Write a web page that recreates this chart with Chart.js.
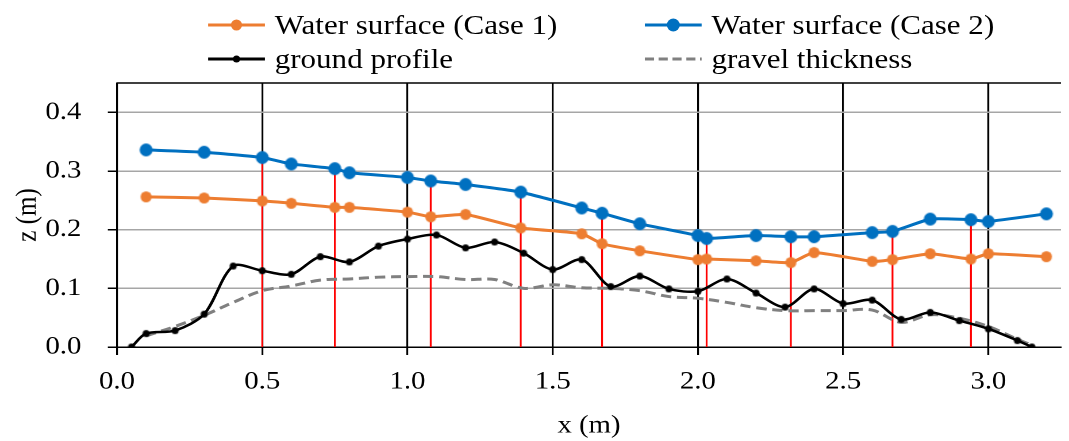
<!DOCTYPE html>
<html>
<head>
<meta charset="utf-8">
<script src="https://cdn.jsdelivr.net/npm/chart.js@4/dist/chart.umd.min.js"></script>
<style>
  html, body { margin: 0; padding: 0; background: #fff; overflow: hidden; }
  #wrap {
    position: absolute; left: 0; top: 0;
    width: 930px; height: 441px;
    transform: scaleX(1.14946); transform-origin: 0 0;
  }
  #chart { position: absolute; left: 0; top: 0; width: 930px; height: 441px; }
  .leg {
    position: absolute; height: 34px; display: flex; align-items: center;
    font-family: 'Liberation Serif', serif; font-size: 27px; color: #000; white-space: nowrap;
  }
  .leg svg { margin-right: 8.5px; }
</style>
</head>
<body>
<div id="wrap">
  <canvas id="chart"></canvas>
  <div id="legend"></div>
</div>
<script>
// horizontal stretch of the whole picture (the reference text is wider than it is tall)
const SX = 1069 / 930;

// x positions (m) of the water surface measurements
const waterX = [0.1, 0.3, 0.5, 0.6, 0.75, 0.8, 1.0, 1.08, 1.2, 1.39, 1.6, 1.67, 1.8, 2.0, 2.03, 2.2, 2.32, 2.4, 2.6, 2.67, 2.8, 2.94, 3.0, 3.2];
const case1Z = [0.256, 0.254, 0.249, 0.245, 0.238, 0.238, 0.230, 0.222, 0.226, 0.203, 0.193, 0.176, 0.164, 0.149, 0.150, 0.147, 0.144, 0.161, 0.146, 0.149, 0.159, 0.150, 0.159, 0.154];
const case2Z = [0.336, 0.332, 0.323, 0.312, 0.304, 0.297, 0.289, 0.283, 0.277, 0.264, 0.237, 0.228, 0.210, 0.190, 0.185, 0.190, 0.188, 0.188, 0.195, 0.197, 0.218, 0.217, 0.214, 0.227];

const groundX = [0.05, 0.1, 0.2, 0.3, 0.4, 0.5, 0.6, 0.7, 0.8, 0.9, 1.0, 1.1, 1.2, 1.3, 1.4, 1.5, 1.6, 1.7, 1.8, 1.9, 2.0, 2.1, 2.2, 2.3, 2.4, 2.5, 2.6, 2.7, 2.8, 2.9, 3.0, 3.1, 3.15];
const groundZ = [0.0, 0.023, 0.028, 0.056, 0.138, 0.130, 0.124, 0.154, 0.145, 0.172, 0.184, 0.191, 0.169, 0.179, 0.160, 0.132, 0.149, 0.103, 0.121, 0.099, 0.095, 0.116, 0.092, 0.068, 0.099, 0.074, 0.080, 0.047, 0.059, 0.045, 0.031, 0.011, 0.0];

const gravelX = [0.1, 0.2, 0.3, 0.4, 0.5, 0.6, 0.7, 0.8, 0.9, 1.0, 1.1, 1.2, 1.3, 1.4, 1.5, 1.6, 1.7, 1.8, 1.9, 2.0, 2.1, 2.2, 2.3, 2.4, 2.5, 2.6, 2.7, 2.8, 2.9, 3.0, 3.1, 3.15];
const gravelZ = [0.019, 0.035, 0.054, 0.076, 0.096, 0.104, 0.114, 0.116, 0.119, 0.120, 0.120, 0.115, 0.115, 0.100, 0.106, 0.101, 0.100, 0.096, 0.086, 0.083, 0.076, 0.067, 0.062, 0.062, 0.062, 0.063, 0.042, 0.055, 0.049, 0.035, 0.013, 0.003];

// red measurement sections: x and height of the vertical line
const sectionX = [0.5, 0.75, 1.08, 1.39, 1.67, 2.03, 2.32, 2.67, 2.94];
const sectionTop = [0.323, 0.304, 0.283, 0.264, 0.228, 0.185, 0.188, 0.197, 0.217];

const xTicks = [0.0, 0.5, 1.0, 1.5, 2.0, 2.5, 3.0];
const yTicks = [0.0, 0.1, 0.2, 0.3, 0.4];

const ORANGE = '#ed7d31', BLUE = '#0070c0', GREY = '#808080';
const FONT = 'Liberation Serif';

// round markers squeezed so they come out round after the stretch
function dot(color, d) {
    const c = document.createElement('canvas');
    c.width = Math.ceil(d / SX) + 2;
    c.height = d + 2;
    const g = c.getContext('2d');
    g.fillStyle = color;
    g.beginPath();
    g.ellipse(c.width / 2, c.height / 2, d / 2 / SX, d / 2, 0, 0, Math.PI * 2);
    g.fill();
    return c;
}

const pts = (xs, ys) => xs.map((x, i) => ({ x: x, y: ys[i] }));

const sections = sectionX.map((x, i) => ({
    data: [{ x: x, y: 0 }, { x: x, y: sectionTop[i] }],
    showLine: true,
    borderColor: '#ff0000',
    borderWidth: 1.6,
    pointRadius: 0,
    order: 10
}));

const frame = {
    id: 'frame',
    beforeDatasetsDraw(chart) {
        const { ctx, chartArea: a } = chart;
        ctx.save();
        ctx.strokeStyle = '#000';
        ctx.lineWidth = 1.5;
        ctx.beginPath();
        ctx.moveTo(a.left, a.top);
        ctx.lineTo(a.right, a.top);
        ctx.stroke();
        ctx.restore();
    }
};

new Chart(document.getElementById('chart'), {
    type: 'scatter',
    data: {
        datasets: [
            {
                label: 'gravel thickness',
                data: pts(gravelX, gravelZ),
                showLine: true,
                borderColor: GREY,
                borderWidth: 3,
                borderDash: [9, 5],
                pointRadius: 0,
                tension: 0.35,
                order: 4
            },
            {
                label: 'ground profile',
                data: pts(groundX, groundZ),
                showLine: true,
                borderColor: '#000',
                borderWidth: 2.5,
                pointStyle: dot('#000', 7),
                tension: 0.3,
                order: 3
            },
            {
                label: 'Water surface (Case 1)',
                data: pts(waterX, case1Z),
                showLine: true,
                borderColor: ORANGE,
                borderWidth: 3,
                pointStyle: dot(ORANGE, 11),
                tension: 0.15,
                order: 2
            },
            {
                label: 'Water surface (Case 2)',
                data: pts(waterX, case2Z),
                showLine: true,
                borderColor: BLUE,
                borderWidth: 3,
                pointStyle: dot(BLUE, 13),
                tension: 0.15,
                order: 1
            },
            ...sections
        ]
    },
    options: {
        responsive: true,
        maintainAspectRatio: false,
        animation: false,
        devicePixelRatio: 2,
        layout: { padding: { top: 83, right: 2.6, left: 0, bottom: 0 } },
        plugins: {
            legend: { display: false },
            tooltip: { enabled: false }
        },
        scales: {
            x: {
                type: 'linear',
                min: 0,
                max: 3.25,
                afterFit: (s) => { s.height = 94; },
                afterBuildTicks: (s) => { s.ticks = xTicks.map(v => ({ value: v })); },
                ticks: {
                    callback: (v) => v.toFixed(1),
                    color: '#000',
                    padding: 12,
                    font: { family: FONT, size: 25 }
                },
                grid: { color: '#000', lineWidth: 1.6, tickLength: 8, tickColor: '#000' },
                border: { color: '#000', width: 1.5 },
                title: {
                    display: true,
                    text: 'x (m)',
                    color: '#000',
                    font: { family: FONT, size: 25 },
                    padding: { top: 0, bottom: 0 }
                }
            },
            y: {
                min: 0,
                max: 0.45,
                afterFit: (s) => { s.width = 101.8; },
                afterBuildTicks: (s) => { s.ticks = yTicks.map(v => ({ value: v })); },
                ticks: {
                    callback: (v) => v.toFixed(1),
                    color: '#000',
                    padding: 23,
                    font: { family: FONT, size: 25 }
                },
                grid: { color: '#a6a6a6', lineWidth: 1.5, tickLength: 8, tickColor: '#000' },
                border: { color: '#000', width: 1.5 },
                title: {
                    display: true,
                    text: 'z (m)',
                    color: '#000',
                    font: { family: FONT, size: 25 },
                    padding: { top: 9.5, bottom: 0 }
                }
            }
        }
    },
    plugins: [frame]
});

// legend laid out as in the picture: two columns, two rows
const legendItems = [
    { text: 'Water surface (Case 1)', color: ORANGE, dot: 11, dash: null, left: 181, row: 0 },
    { text: 'Water surface (Case 2)', color: BLUE, dot: 13, dash: null, left: 561, row: 0 },
    { text: 'ground profile', color: '#000', dot: 7, dash: null, left: 181, row: 1 },
    { text: 'gravel thickness', color: GREY, dot: 0, dash: '8 4', left: 561, row: 1 }
];
const rowCenter = [25, 59];
const legend = document.getElementById('legend');
legendItems.forEach(it => {
    const d = document.createElement('div');
    d.className = 'leg';
    d.style.left = it.left + 'px';
    d.style.top = (rowCenter[it.row] - 17) + 'px';
    const w = 49.5, h = 16;
    let svg = '<svg width="' + w + '" height="' + h + '">' +
        '<line x1="0" y1="' + h / 2 + '" x2="' + w + '" y2="' + h / 2 + '" stroke="' + it.color +
        '" stroke-width="3"' + (it.dash ? ' stroke-dasharray="' + it.dash + '"' : '') + '/>';
    if (it.dot) {
        svg += '<ellipse cx="' + w / 2 + '" cy="' + h / 2 + '" rx="' + (it.dot / 2 / SX) + '" ry="' + it.dot / 2 + '" fill="' + it.color + '"/>';
    }
    svg += '</svg>';
    d.innerHTML = svg + '<span>' + it.text + '</span>';
    legend.appendChild(d);
});
</script>
</body>
</html>
